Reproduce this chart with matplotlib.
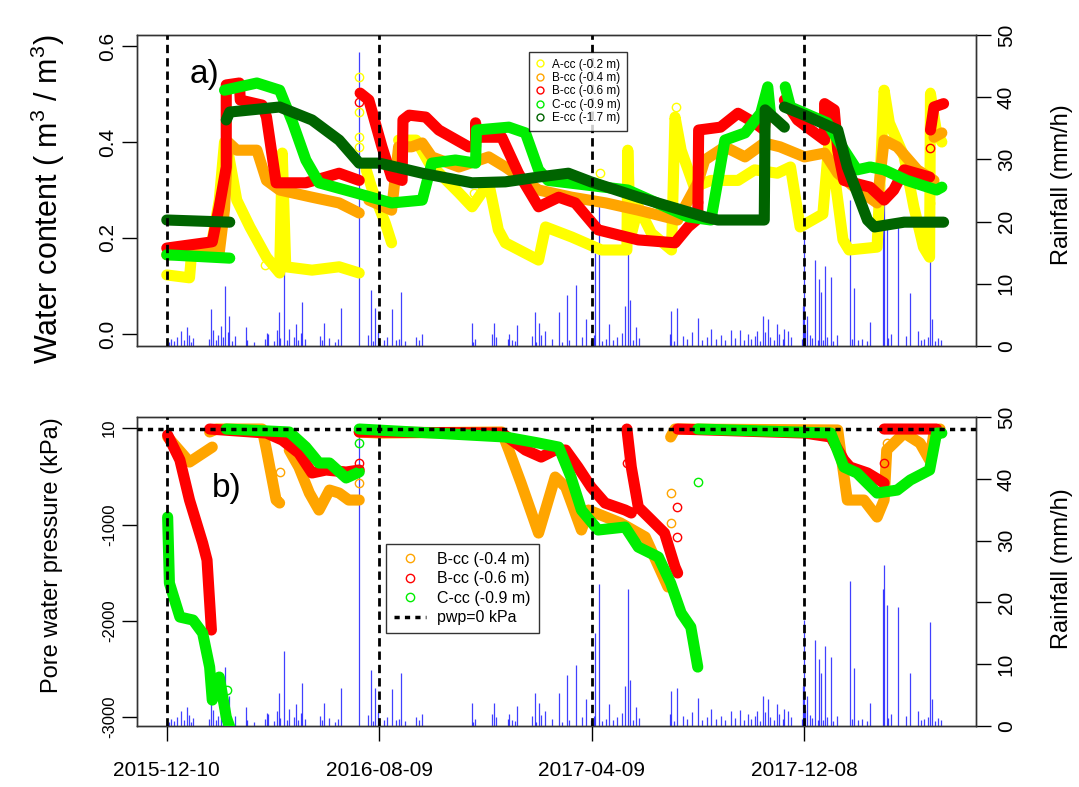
"""Soil water content and pore pressure with hourly rainfall, two stacked panels."""

import datetime as dt

import matplotlib
matplotlib.use("Agg")
import matplotlib.pyplot as plt
from matplotlib.lines import Line2D
import numpy as np

plt.rcParams["font.family"] = ["Liberation Sans", "DejaVu Sans"]
plt.rcParams["mathtext.fontset"] = "custom"
plt.rcParams["mathtext.rm"] = "Liberation Sans"

nan = np.nan
BASE = dt.date(2015, 12, 10)

# days since 2015-12-10
tick_days = [0, 243, 486, 729]

# ---- a) volumetric water content (m3/m3) ----
wc_a_day = [0, 26, 28, 52, 60, 66, 70, 80, 95, 114, 129, 132, 136, 166, 197, 220, nan,
            228, 235, 250, 257, nan,
            265, 285, 300, 334, 349, 368, 379, 387, 425, 433, 463, 497, 526, 527, 530,
            539, 554, 577, 581, 588, 603, 622, 653, 672, 698, 713, 724, 750, 757, 763,
            773, 780, 812, 820, 826, 843, 854, 865, 872, 873, 880, 886]
wc_a = [0.123, 0.117, 0.16, 0.196, 0.279, 0.40, 0.38, 0.279, 0.223, 0.16, 0.127, 0.377,
        0.14, 0.133, 0.14, 0.127, nan,
        0.342, 0.30, 0.23, 0.19, nan,
        0.404, 0.404, 0.356, 0.294, 0.265, 0.315, 0.217, 0.19, 0.154, 0.223, 0.202,
        0.175, 0.175, 0.383, 0.20, 0.265, 0.21, 0.175, 0.452, 0.383, 0.306, 0.32, 0.32,
        0.342, 0.335, 0.348, 0.223, 0.25, 0.40, 0.335, 0.196, 0.175, 0.181, 0.508,
        0.44, 0.369, 0.265, 0.181, 0.16, 0.50, 0.42, 0.40]

wc_b4_day = [0, 60, 66, 70, 80, 103, 114, 129, 166, 197, 220, nan,
             231, 257, 265, 280, 292, 303, 334, 368, 387, 425, 463, 502, 539, 584, 607,
             615, 638, 661, 683, 701, 729, 752, 767, 786, 812, 820, 835, 858, 877, nan,
             877, 886]
wc_b4 = [0.165, 0.17, 0.26, 0.40, 0.383, 0.383, 0.32, 0.30, 0.285, 0.273, 0.252, nan,
         0.279, 0.258, 0.39, 0.39, 0.398, 0.369, 0.348, 0.369, 0.348, 0.30, 0.285, 0.273,
         0.258, 0.2375, 0.315, 0.3625, 0.39, 0.369, 0.398, 0.39, 0.369, 0.377, 0.335,
         0.306, 0.273, 0.404, 0.39, 0.342, 0.32, nan,
         0.41, 0.419]

wc_b6_day = [0, 52, 60, 68, 68, 83, 84, 109, 114, 125, 159, 182, 197, 220, nan,
             221, 231, 246, 257, 269, 270, 277, 296, 311, 345, 353, 353, 354, 383, 402,
             425, 448, 467, 493, 539, 581, 596, 607, 608, 633, 653, 672, 683, 687, nan,
             706, 721, 752, 752, 763, 767, 774, 804, 820, 831, 843, 872, nan,
             873, 877, 888]
wc_b6 = [0.179, 0.192, 0.265, 0.348, 0.519, 0.523, 0.4875, 0.477, 0.452, 0.315, 0.315,
         0.327, 0.335, 0.32, nan,
         0.502, 0.4875, 0.39, 0.327, 0.32, 0.446, 0.456, 0.452, 0.425, 0.39, 0.39, 0.44,
         0.41, 0.41, 0.335, 0.265, 0.285, 0.273, 0.217, 0.196, 0.19, 0.223, 0.24, 0.425,
         0.431, 0.46, 0.44, 0.425, 0.4875, nan,
         0.4875, 0.446, 0.404, 0.48, 0.467, 0.383, 0.32, 0.306, 0.279, 0.30, 0.342, 0.327,
         nan,
         0.425, 0.473, 0.48]

wc_c9_day = [0, 72, nan,
             66, 103, 129, 144, 159, 174, 216, 257, 292, 303, 330, 353, 354, 391, 410, 425,
             436, 527, 596, 622, 630, 638, 661, 679, 687, 690, nan,
             707, 713, 755, 767, 789, 804, 820, 846, 880, 886]
wc_c9 = [0.165, 0.158, nan,
         0.508, 0.523, 0.508, 0.44, 0.3625, 0.315, 0.294, 0.273, 0.279, 0.356, 0.3625,
         0.356, 0.425, 0.431, 0.419, 0.342, 0.32, 0.30, 0.244, 0.2375, 0.32, 0.404, 0.419,
         0.46, 0.515, 0.46, nan,
         0.515, 0.473, 0.44, 0.404, 0.342, 0.348, 0.342, 0.32, 0.30, 0.306]

wc_e17_day = [0, 72, nan,
              68, 72, 129, 166, 197, 220, 243, 292, 349, 387, 425, 459, 485, 539, 615, 630,
              683, 684, 706, nan,
              706, 729, 767, 778, 801, 809, 843, 888]
wc_e17 = [0.2375, 0.233, nan,
          0.446, 0.4625, 0.473, 0.446, 0.404, 0.356, 0.356, 0.335, 0.315, 0.317, 0.327,
          0.335, 0.317, 0.285, 0.244, 0.2375, 0.2375, 0.467, 0.431, nan,
          0.473, 0.456, 0.425, 0.348, 0.2375, 0.223, 0.233, 0.233]

# single readings away from the main traces
wc_a_odd_day = [220, 220, 220, 220, 112, 351, 495, 582, 872, 872]
wc_a_odd = [0.535, 0.4625, 0.41, 0.39, 0.144, 0.294, 0.335, 0.473, 0.504, 0.273]
wc_b6_odd_day = [220, 607, 607, 872]
wc_b6_odd = [0.483, 0.335, 0.275, 0.3875]

# ---- b) pore water pressure (kPa) ----
pwp_b4_day = [1, 26, 52, nan,
              49, 57, 109, 114, 125, 129, nan,
              140, 151, 163, 174, 186, 197, 208, 220, nan,
              220, 243, 383, 391, 405, 425, 444, 456, 474, 482, 519, 547, 573, nan,
              576, 581, 767, 770, 778, 797, 812, 820, 823, 843, 861, 872, 877, 884]
pwp_b4 = [-83, -344, -188, nan,
          -31, 0, 0, -219, -740, -771, nan,
          -219, -396, -667, -844, -636, -667, -740, -740, nan,
          -31, -42, -31, -219, -563, -1084, -500, -604, -1052, -844, -980, -1125, -1646,
          nan,
          -83, 0, -10, -219, -740, -740, -917, -740, -219, -42, -146, -323, -42, 0]

pwp_b6_day = [1, 15, 26, 41, 46, 51, nan,
              49, 114, 132, 151, 166, 182, 205, 220, nan,
              220, 383, 410, 428, 444, 456, 470, 485, 501, 524, 531, nan,
              526, 531, 539, 554, 569, 581, 584, nan,
              584, 729, 759, 774, 781, 801, 820, nan,
              820, 880]
pwp_b6 = [-63, -323, -740, -1188, -1365, -2094, nan,
          0, -42, -115, -250, -458, -427, -448, -427, nan,
          -31, -42, -219, -292, -219, -219, -396, -604, -771, -844, -875, nan,
          0, -396, -813, -948, -1084, -1438, -1500, nan,
          0, -42, -83, -323, -396, -458, -563, nan,
          0, 0]

pwp_c9_day = [1, 3, 15, 30, 41, 49, 52, 60, 68, 72, nan,
              68, 140, 159, 174, 186, 205, 220, nan,
              220, 387, 425, 448, 462, 474, 493, 524, 539, 562, 576, 588, 599, 607, nan,
              607, 759, 774, 789, 812, 835, 850, 872, 880, 886]
pwp_c9 = [-917, -1605, -1959, -1990, -2126, -2480, -2824, -2584, -3001, -3105, nan,
          0, -31, -188, -354, -354, -510, -448, nan,
          0, -83, -146, -188, -500, -844, -1052, -1021, -1230, -1334, -1605, -1917, -2063,
          -2480, nan,
          0, -42, -396, -458, -667, -636, -531, -427, -42, -42]

pwp_b4_odd_day = [129, 220, 576, 576, 823]
pwp_b4_odd = [-448, -563, -667, -980, -146]
pwp_b6_odd_day = [220, 583, 583, 526, 820]
pwp_b6_odd = [-354, -813, -1125, -354, -354]
pwp_c9_odd_day = [220, 69, 607]
pwp_c9_odd = [-146, -2720, -552]

# ---- hourly rainfall (mm/h) ----
rain_day = [23, 51, 67, 71, 91, 114, 128, 134, 148, 155, 180, 199, 220, 233, 238, 257,
            268, 292, 349, 374, 391, 400, 421, 425, 448, 457, 468, 479, 490, 494, 505,
            524, 527, 530, 536, 576, 583, 607, 655, 675, 681, 687, 698, 706, 727, 729,
            732, 741, 746, 748, 752, 759, 781, 786, 804, 819, 820, 823, 836, 850, 859,
            872, 875,
            2, 5, 8, 12, 16, 20, 25, 28, 30, 48, 53, 56, 58, 62, 64, 70, 74, 78, 92, 100,
            112, 116, 122, 126, 130, 137, 140, 145, 150, 153, 158, 175, 178, 185, 192, 196,
            230, 236, 242, 248, 252, 262, 266, 272, 285, 288, 350, 352, 372, 376, 390, 395,
            398, 418, 422, 428, 432, 440, 452, 460, 475, 485, 488, 498, 502, 510, 515, 520,
            533, 540, 575, 580, 590, 595, 600, 612, 618, 622, 628, 634, 638, 645, 650, 660,
            664, 668, 672, 678, 684, 690, 694, 700, 704, 710, 714, 726, 730, 735, 738, 744,
            750, 755, 762, 766, 783, 790, 795, 800, 825, 828, 845, 862, 866, 870, 878, 882,
            885]
rain_mm = [3.0, 5.9, 9.6, 4.8, 3.0, 2.1, 5.4, 12.2, 3.5, 7.0, 3.7, 6.1, 47.3, 9.0, 6.1,
           6.0, 8.6, 1.9, 3.7, 3.7, 1.9, 3.3, 5.4, 3.7, 5.4, 8.2, 9.8, 4.4, 15.0, 23.0,
           3.5, 6.4, 22.1, 7.4, 3.0, 5.7, 6.1, 4.5, 2.6, 2.4, 4.8, 4.3, 3.6, 2.7, 6.5, 17.2,
           4.8, 13.9, 10.8, 8.6, 12.9, 11.1, 23.4, 9.4, 3.8, 22.1, 26.0, 19.6, 19.3, 8.5,
           2.4, 16.9, 4.3,
           0.6, 1.2, 0.8, 1.5, 2.4, 1.0, 1.8, 0.7, 1.3, 1.1, 2.6, 0.9, 1.7, 3.2, 1.4, 2.2,
           0.8, 1.6, 0.9, 0.7, 1.2, 1.9, 0.8, 2.5, 1.3, 1.0, 2.8, 1.4, 0.9, 2.1, 1.2, 1.6,
           0.9, 1.3, 0.7, 1.1, 1.8, 0.8, 2.2, 1.0, 1.5, 0.9, 1.2, 0.8, 1.4, 1.0, 0.7, 1.1,
           2.0, 1.4, 1.2, 0.9, 0.8, 1.6, 0.7, 1.8, 2.4, 1.1, 0.6, 0.9, 1.4, 1.0, 1.7, 0.8,
           1.2, 0.9, 1.5, 2.1, 1.0, 1.3, 1.9, 0.8, 1.6, 1.1, 2.3, 0.9, 1.4, 2.8, 1.2, 1.7,
           1.0, 2.5, 1.3, 0.9, 2.0, 1.1, 1.6, 0.8, 2.2, 1.4, 1.0, 1.9, 1.2, 2.4, 1.5, 1.1,
           2.6, 1.8, 1.3, 0.9, 1.0, 1.4, 0.8, 1.7, 1.2, 0.9, 1.1, 0.8, 1.3, 2.0, 1.6, 0.9,
           1.2, 1.5, 0.8, 1.3, 1.0]

YELLOW, ORANGE, RED, GREEN, DKGREEN = "#ffff00", "#ffa500", "#ff0000", "#00ee00", "#006400"


def _series(ax, x, y, color):
    ax.plot(x, y, color=color, lw=8, solid_capstyle="round", solid_joinstyle="round",
            zorder=3)


def _odd(ax, x, y, color):
    ax.plot(x, y, "o", mfc="none", mec=color, ms=6, mew=1, zorder=3)


def _rain_axis(ax):
    r = ax.twinx()
    ax.set_zorder(r.get_zorder() + 1)
    ax.patch.set_visible(False)
    r.vlines(rain_day, 0, rain_mm, colors="#0000ff", lw=0.9, alpha=0.75)
    r.set_ylim(0, 50)
    r.set_yticks([0, 10, 20, 30, 40, 50])
    r.set_yticklabels(["0", "10", "20", "30", "40", "50"], rotation=90, va="center",
                      fontsize=15)
    r.tick_params(axis="y", length=11, width=1, pad=4)
    return r


def _frame(ax):
    for s in ax.spines.values():
        s.set_color("#333333")
        s.set_linewidth(1)


fig = plt.figure(figsize=(10.79, 7.87), dpi=100)
ax1 = fig.add_axes([0.127, 0.5604, 0.7775, 0.3951])
ax2 = fig.add_axes([0.127, 0.0775, 0.7775, 0.3926])

# panel a
r1 = _rain_axis(ax1)
_series(ax1, wc_a_day, wc_a, YELLOW)
_series(ax1, wc_b4_day, wc_b4, ORANGE)
_series(ax1, wc_b6_day, wc_b6, RED)
_series(ax1, wc_c9_day, wc_c9, GREEN)
_series(ax1, wc_e17_day, wc_e17, DKGREEN)
_odd(ax1, wc_a_odd_day, wc_a_odd, YELLOW)
_odd(ax1, wc_b6_odd_day, wc_b6_odd, RED)
ax1.set_ylim(-0.025, 0.623)
ax1.set_yticks([0, 0.2, 0.4, 0.6])
ax1.set_yticklabels(["0.0", "0.2", "0.4", "0.6"], rotation=90, va="center", fontsize=15)
ax1.tick_params(axis="y", length=10.5, width=1, pad=4)
ax1.tick_params(axis="x", bottom=False, labelbottom=False)
ax1.text(43, 0.54, "a)", fontsize=24, ha="center", va="center")

leg_a = [Line2D([], [], ls="none", marker="o", mfc="none", mec=c, ms=5, mew=1, label=l)
         for c, l in [(YELLOW, "A-cc (-0.2 m)"), (ORANGE, "B-cc (-0.4 m)"),
                      (RED, "B-cc (-0.6 m)"), (GREEN, "C-cc (-0.9 m)"),
                      (DKGREEN, "E-cc (-1.7 m)")]]
lg = ax1.legend(handles=leg_a, loc="upper left", bbox_to_anchor=(0.467, 0.945),
                borderaxespad=0, fontsize=8.5, frameon=True, fancybox=False,
                edgecolor="black", handlelength=0.8, handletextpad=0.6,
                labelspacing=0.12, borderpad=0.55)
lg.get_frame().set_linewidth(1)
lg.set_zorder(10)

# panel b
r2 = _rain_axis(ax2)
_series(ax2, pwp_b4_day, pwp_b4, ORANGE)
_series(ax2, pwp_b6_day, pwp_b6, RED)
_series(ax2, pwp_c9_day, pwp_c9, GREEN)
_odd(ax2, pwp_b4_odd_day, pwp_b4_odd, ORANGE)
_odd(ax2, pwp_b6_odd_day, pwp_b6_odd, RED)
_odd(ax2, pwp_c9_odd_day, pwp_c9_odd, GREEN)
ax2.axhline(0, color="black", lw=2.5, ls=(0, (1.5, 1.5)), zorder=6)
ax2.set_ylim(-3094, 125)
ax2.set_yticks([10, -1000, -2000, -3000])
ax2.set_yticklabels(["10", "-1000", "-2000", "-3000"], rotation=90, va="center",
                    fontsize=12)
ax2.tick_params(axis="y", length=10.5, width=1, pad=4)
ax2.set_xticks(tick_days)
ax2.set_xticklabels([(BASE + dt.timedelta(days=d)).isoformat() for d in tick_days],
                    fontsize=15)
ax2.tick_params(axis="x", length=11, width=1, pad=14)
ax2.text(69, -615, "b)", fontsize=24, ha="center", va="center")

leg_b = [Line2D([], [], ls="none", marker="o", mfc="none", mec=c, ms=6, mew=1, label=l)
         for c, l in [(ORANGE, "B-cc (-0.4 m)"), (RED, "B-cc (-0.6 m)"),
                      (GREEN, "C-cc (-0.9 m)")]]
leg_b.append(Line2D([], [], color="black", lw=2.5, ls=(0, (1.5, 1.5)),
                    label="pwp=0 kPa"))
lg2 = ax2.legend(handles=leg_b, loc="upper left", bbox_to_anchor=(0.297, 0.589),
                 borderaxespad=0, fontsize=11.5, frameon=True, fancybox=False,
                 edgecolor="black", handlelength=2.0, handletextpad=0.7,
                 labelspacing=0.28, borderpad=0.5)
lg2.get_frame().set_linewidth(1)
lg2.set_zorder(10)

for ax in (ax1, ax2):
    ax.set_xlim(-34, 925)
    for d in tick_days:
        ax.axvline(d, color="black", lw=2, ls=(0, (3, 1.8)), zorder=5)
    _frame(ax)
for r in (r1, r2):
    _frame(r)

fig.text(0.0445, 0.747, "Water content ( m$^3$ / m$^3$)", rotation=90, fontsize=22,
         ha="center", va="center")
fig.text(0.048, 0.295, "Pore water pressure (kPa)", rotation=90, fontsize=17,
         ha="center", va="center")
fig.text(0.984, 0.765, "Rainfall (mm/h)", rotation=90, fontsize=17,
         ha="center", va="center")
fig.text(0.984, 0.278, "Rainfall (mm/h)", rotation=90, fontsize=17,
         ha="center", va="center")

fig.savefig("out.png", dpi=100)
